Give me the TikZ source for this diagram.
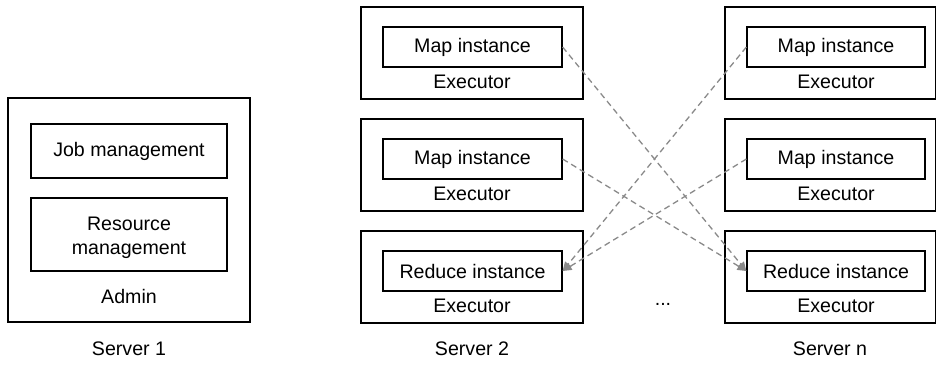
\documentclass[tikz,border=0pt]{standalone}
\usepackage{fontspec}
\setmainfont{Liberation Sans}
\usetikzlibrary{arrows.meta}
\definecolor{arrgray}{HTML}{8A8A8A}
\begin{document}
\begin{tikzpicture}[x=1pt,y=-1pt,
  every node/.style={font=\fontsize{19.6}{24}\selectfont, inner sep=0pt},
  box/.style={draw=black, line width=1.2pt},
  lbl/.style={anchor=center},
  flow/.style={draw=arrgray, line width=1.3pt, dash pattern=on 6pt off 4pt, -{Triangle[length=9pt,width=8pt]}}]
\useasboundingbox (0,0) rectangle (937,369);
% Server 1
\draw[box] (8,98) rectangle (250,322);
\node[box, minimum width=196pt, minimum height=54pt] (job) at (129,151) {Job management};
\draw[box] (31,198) rectangle (227,271);
\node[align=center] (res) at (129,238) {Resource\\management};
\node[lbl] (admin) at (129,296) {Admin};
\node[lbl] (s1) at (129,349) {Server 1};
% Server 2
\foreach \y/\t/\n in {7/Map instance/a, 119/Map instance/b, 231/Reduce instance/c}{
  \draw[box] (361,\y) rectangle (583,\y+92);
  \node[box, minimum width=179pt, minimum height=40pt] (m2\n) at (472.5,\y+40) {\t};
  \node[lbl] at (472,\y+75) {Executor};
}
\node[lbl] (s2) at (472,349) {Server 2};
% Server n
\foreach \y/\t/\n in {7/Map instance/a, 119/Map instance/b, 231/Reduce instance/c}{
  \draw[box] (725,\y) rectangle (935.5,\y+92);
  \node[box, minimum width=178pt, minimum height=40pt] (mn\n) at (836,\y+40) {\t};
  \node[lbl] at (836,\y+75) {Executor};
}
\node[lbl] (sn) at (830,349) {Server n};
\node[lbl] (dots) at (663,304) {...};
% arrows
\draw[flow] (m2a.east) -- (mnc.west);
\draw[flow] (m2b.east) -- (mnc.west);
\draw[flow] (mna.west) -- (m2c.east);
\draw[flow] (mnb.west) -- (m2c.east);
\end{tikzpicture}
\end{document}
